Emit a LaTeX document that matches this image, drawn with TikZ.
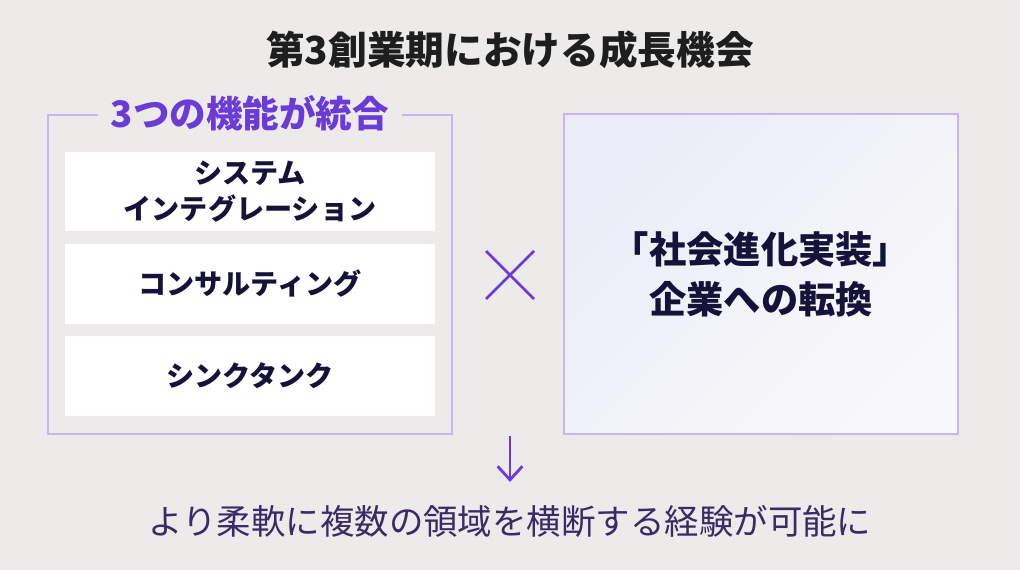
\documentclass[tikz,border=0pt]{standalone}
\usepackage{fontspec}
\setmainfont{Noto Sans CJK JP}
\usetikzlibrary{arrows.meta,positioning}
\definecolor{pagebg}{HTML}{ECEBE9}
\definecolor{titleink}{HTML}{1E1E1E}
\definecolor{accent}{HTML}{6A3BD6}
\definecolor{frameline}{HTML}{C8B6F2}
\definecolor{navy}{HTML}{15133A}
\definecolor{footink}{HTML}{3B2A66}
\definecolor{shadeA}{HTML}{ECECF8}
\definecolor{shadeB}{HTML}{F8F8FA}
\tikzset{
    group/.style = {draw=frameline, line width=1pt, rectangle,
        minimum width=10.1cm, minimum height=7.975cm},
    item/.style = {fill=white, rectangle, minimum width=9.25cm,
        minimum height=1.975cm, align=center, text=navy,
        font=\fontsize{20}{25.5}\selectfont\bfseries},
    result/.style = {draw=frameline, line width=1pt, rectangle,
        minimum width=9.85cm, minimum height=8cm, align=center, text=navy,
        top color=shadeA, bottom color=shadeB, shading angle=45,
        font=\fontsize{26.5}{35.5}\selectfont\bfseries},
    times/.style = {draw=accent, line width=2pt},
    down/.style = {draw=accent, line width=2pt, -{Straight Barb[length=0.34cm,width=0.62cm,line width=2pt]}}
}

\begin{document}
\begin{tikzpicture}[x=0.025cm, y=-0.025cm]
    \fill [pagebg] (0,0) rectangle (1020,570);
    \useasboundingbox (0,0) rectangle (1020,570);
    \node [text=titleink, font=\fontsize{27.5}{32}\selectfont\bfseries] (title) at (510,50) {第3創業期における成長機会};
    \node [group] (frame) at (250,274.5) {};
    \node [fill=pagebg, inner xsep=9pt, text=accent, font=\fontsize{26}{32}\selectfont\bfseries] (label) at (250,113) {3つの機能が統合};
    \node [item] (si) at (250,191.5) {システム\\インテグレーション};
    \node [item] (consult) at (250,284) {コンサルティング};
    \node [item] (think) at (250,376) {シンクタンク};
    \node [result] (goal) at (761,274) {「社会進化実装」\\企業への転換};
    % multiplication sign
    \coordinate (cross) at (510,275);
    \draw [times] ([shift={(-24,-24)}]cross) -- ([shift={(24,24)}]cross);
    \draw [times] ([shift={(-24,24)}]cross) -- ([shift={(24,-24)}]cross);
    \node [text=footink, font=\fontsize{24.5}{30}\selectfont] (foot) at (510,521) {より柔軟に複数の領域を横断する経験が可能に};
    \coordinate (from) at (510,436);
    \draw [down, shorten >=0.45cm] (from) -- (foot.north);
\end{tikzpicture}
\end{document}
